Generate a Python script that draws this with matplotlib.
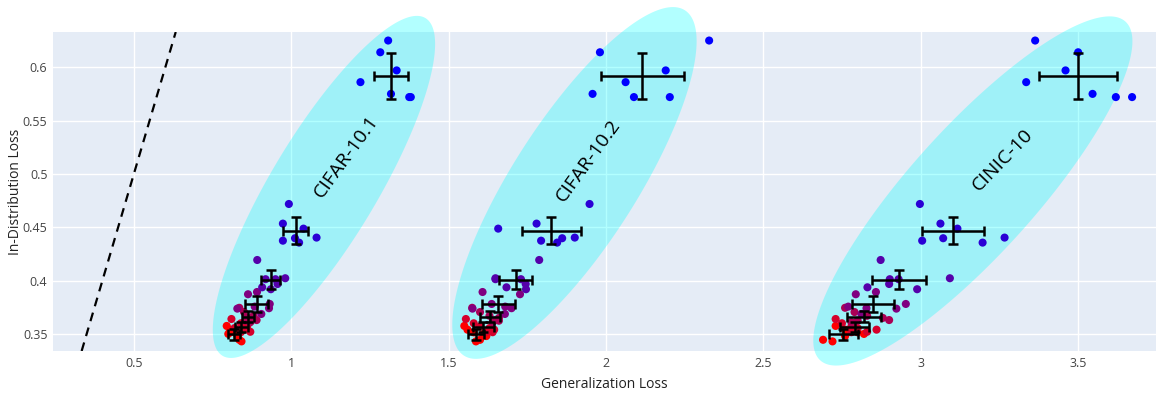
import numpy as np
import matplotlib
matplotlib.use("Agg")
import matplotlib.pyplot as plt
from matplotlib.ticker import FuncFormatter

plt.rcParams['font.family'] = ['Open Sans', 'DejaVu Sans']

# in-distribution loss, shared by all three test sets (7 groups x 7 models)
id_loss = [
    [0.3575, 0.3540, 0.3515, 0.3500, 0.3480, 0.3445, 0.3430],
    [0.3640, 0.3600, 0.3570, 0.3555, 0.3540, 0.3520, 0.3516],
    [0.3745, 0.3705, 0.3670, 0.3650, 0.3630, 0.3610, 0.3624],
    [0.3872, 0.3893, 0.3737, 0.3781, 0.3741, 0.3687, 0.3756],
    [0.4193, 0.4013, 0.4013, 0.4022, 0.3968, 0.3919, 0.3937],
    [0.4718, 0.4534, 0.4487, 0.4374, 0.4356, 0.4403, 0.4397],
    [0.625, 0.614, 0.597, 0.586, 0.575, 0.572, 0.572],
]

# generalization loss per test set
gen_cifar101 = [
    [0.795, 0.805, 0.82, 0.80, 0.83, 0.835, 0.842],
    [0.81, 0.84, 0.86, 0.82, 0.85, 0.87, 0.84],
    [0.835, 0.85, 0.88, 0.86, 0.89, 0.87, 0.855],
    [0.8627, 0.8913, 0.8287, 0.9317, 0.9294, 0.905, 0.884],
    [0.892, 0.9185, 0.950, 0.981, 0.9566, 0.9353, 0.9077],
    [0.9925, 0.9735, 1.039, 0.9735, 1.025, 1.0805, 1.012],
    [1.308, 1.283, 1.335, 1.220, 1.317, 1.375, 1.380],
]
gen_cifar102 = [
    [1.55, 1.56, 1.58, 1.61, 1.62, 1.60, 1.587],
    [1.555, 1.58, 1.60, 1.63, 1.645, 1.62, 1.64],
    [1.575, 1.60, 1.63, 1.66, 1.65, 1.64, 1.66],
    [1.727, 1.608, 1.576, 1.637, 1.700, 1.679, 1.680],
    [1.788, 1.649, 1.730, 1.649, 1.745, 1.746, 1.684],
    [1.948, 1.7796, 1.6577, 1.794, 1.845, 1.901, 1.861],
    [2.328, 1.981, 2.190, 2.0625, 1.9576, 2.089, 2.203],
]
gen_cinic = [
    [2.73, 2.76, 2.80, 2.82, 2.76, 2.69, 2.72],
    [2.73, 2.75, 2.78, 2.80, 2.86, 2.83, 2.78],
    [2.76, 2.79, 2.83, 2.88, 2.90, 2.78, 2.80],
    [2.794, 2.858, 2.923, 2.953, 2.828, 2.812, 2.770],
    [2.873, 2.902, 2.930, 3.093, 2.900, 2.989, 2.831],
    [2.9977, 3.063, 3.117, 3.005, 3.197, 3.2668, 3.0717],
    [3.364, 3.5006, 3.4605, 3.3355, 3.5464, 3.6204, 3.672],
]
dataset_names = ["CIFAR-10.1", "CIFAR-10.2", "CINIC-10"]

# ellipse / label layout: centre (data), semi axes (px), angle (deg), label pos, label angle
ellipses = [
    ((1.104, 0.4878), 197, 53, 59, (1.176, 0.5156), 54),
    ((1.900, 0.4915), 205, 62, 57.4, (1.944, 0.5124), 54),
    ((3.166, 0.484), 228, 63, 48, (3.259, 0.5131), 46),
]

xlim = (0.243, 3.748)
ylim = (0.334, 0.633)

fig = plt.figure(figsize=(11.56, 3.94), dpi=100)
ax = fig.add_axes([53 / 1156, 43 / 394, 1 - 53 / 1156, 319 / 394])
ax.set_facecolor('#E5ECF6')
for s in ax.spines.values():
    s.set_visible(False)
ax.grid(True, color='white', linewidth=1)
ax.set_axisbelow(True)
ax.set_xlim(*xlim)
ax.set_ylim(*ylim)
ax.set_xticks([0.5, 1, 1.5, 2, 2.5, 3, 3.5])
ax.set_yticks([0.35, 0.4, 0.45, 0.5, 0.55, 0.6])
ax.xaxis.set_major_formatter(FuncFormatter(lambda v, p: f"{v:g}"))
ax.yaxis.set_major_formatter(FuncFormatter(lambda v, p: f"{v:g}"))
ax.tick_params(length=0, labelsize=9, labelcolor='#444444', pad=4)
ax.set_xlabel("Generalization Loss", fontsize=10, color='#222222', va='center')
ax.set_ylabel("In-Distribution Loss", fontsize=10, color='#222222', va='center')
ax.xaxis.set_label_coords(551.5 / 1103, -34 / 319)
ax.yaxis.set_label_coords(-37 / 1103, 0.5)

# px per data unit for drawing ellipses in screen proportions
sx = 1103 / (xlim[1] - xlim[0])
sy = 319 / (ylim[1] - ylim[0])

ax.axline((0, 0), slope=1, color='black', linestyle=(0, (4, 3)), linewidth=1.6, zorder=2)

t = np.linspace(0, 2 * np.pi, 200)
for (c, a, b, ang, lpos, lang), name in zip(ellipses, dataset_names):
    th = np.deg2rad(ang)
    ex = c[0] + (a * np.cos(t) * np.cos(th) - b * np.sin(t) * np.sin(th)) / sx
    ey = c[1] + (a * np.cos(t) * np.sin(th) + b * np.sin(t) * np.cos(th)) / sy
    ax.fill(ex, ey, color='cyan', alpha=0.3, lw=0, clip_on=False, zorder=3)
    ax.text(lpos[0], lpos[1], name, rotation=lang, rotation_mode='anchor',
            ha='center', va='center', fontsize=14, color='black', zorder=6)

n_groups = len(id_loss)
for gen in [gen_cifar101, gen_cifar102, gen_cinic]:
    for g in range(n_groups):
        frac = g / (n_groups - 1)
        col = (1 - frac, 0, frac)
        xs = np.array(gen[g])
        ys = np.array(id_loss[g])
        ax.scatter(xs, ys, s=34, color=col, edgecolors='none', zorder=4)
        ax.errorbar(xs.mean(), ys.mean(), xerr=xs.std(ddof=1), yerr=ys.std(ddof=1),
                    fmt='none', ecolor='black', elinewidth=1.8, capsize=3.5,
                    capthick=1.8, zorder=5)

fig.savefig('out.png', dpi=100)
